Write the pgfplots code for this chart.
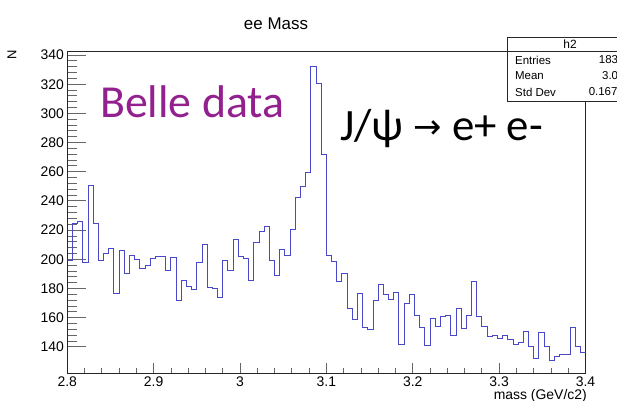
\documentclass[border=0pt]{standalone}
\usepackage{fontspec}
\setmainfont{Liberation Sans}
\newfontfamily\calibri{Carlito}
\newfontfamily\dejavu{DejaVu Sans}
\usepackage{pgfplots}
\pgfplotsset{compat=1.18}
\definecolor{histblue}{RGB}{72,72,200}
\definecolor{bellepurple}{RGB}{147,32,143}
\begin{document}
\begin{tikzpicture}
\useasboundingbox (0,0) rectangle (617bp,401bp);
\clip (0,0) rectangle (617bp,401bp);
\fill[white] (0,0) rectangle (617bp,401bp);
\begin{axis}[
  at={(67.3bp,28bp)}, anchor=south west, scale only axis,
  width=518.2bp, height=321.3bp,
  xmin=2.8, xmax=3.4, ymin=122, ymax=342.3,
  xtick={2.8,2.9,3.0,3.1,3.2,3.3,3.4},
  xticklabels={2.8,2.9,3,3.1,3.2,3.3,3.4},
  ytick={140,160,...,340},
  minor x tick num=4, minor y tick num=4,
  tick align=inside, xtick pos=left, ytick pos=left,
  axis line style={black!85, line width=0.8bp},
  every tick/.style={black!60, line width=0.8bp},
  major tick length=18.6bp, minor tick length=9.3bp,
  xtick style={/pgfplots/major tick length=10bp, /pgfplots/minor tick length=5bp},
  ticklabel style={font=\fontsize{14}{16}\selectfont},
  /pgf/number format/assume math mode=true,
]
\addplot[const plot mark left, histblue, line width=0.9bp, mark=none] coordinates {
(2.800,199.4) (2.806,224.5) (2.812,226) (2.818,197.5) (2.824,250.8)
(2.830,224.5) (2.836,199.4) (2.842,204) (2.848,207.4) (2.854,176.5)
(2.860,205.8) (2.866,190.3) (2.872,202.8) (2.878,199.8) (2.884,193.7)
(2.890,196) (2.896,200.5) (2.902,202) (2.908,202) (2.914,192.5)
(2.920,201.5) (2.926,172) (2.932,185.7) (2.938,181) (2.944,179)
(2.950,198) (2.956,210) (2.962,180.7) (2.968,180) (2.974,174)
(2.980,199.4) (2.986,192.5) (2.992,213.5) (2.998,201.6) (3.004,200.5)
(3.010,185.7) (3.016,211.2) (3.022,218.8) (3.028,222.2) (3.034,198.9)
(3.040,189.1) (3.046,206.9) (3.052,202.8) (3.058,220.6) (3.064,242.7)
(3.070,250) (3.076,259.2) (3.082,332.3) (3.088,320.4) (3.094,272)
(3.100,202.8) (3.106,198.7) (3.112,184.5) (3.118,190.3) (3.124,166.3)
(3.130,159) (3.136,176.6) (3.142,153.3) (3.148,151.9) (3.154,172)
(3.160,182.7) (3.166,176.2) (3.172,172.7) (3.178,177) (3.184,141.8)
(3.190,169.7) (3.196,175.9) (3.202,161.7) (3.208,153.3) (3.214,140.7)
(3.220,159.5) (3.226,154.2) (3.232,160.5) (3.238,161.7) (3.244,148)
(3.250,166.3) (3.256,152.6) (3.262,161.7) (3.268,184.5) (3.274,160.5)
(3.280,154.2) (3.286,146.8) (3.292,148) (3.298,145.7) (3.304,148)
(3.310,145) (3.316,141.8) (3.322,142.7) (3.328,150.7) (3.334,140)
(3.340,132) (3.346,149.8) (3.352,140) (3.358,130.9) (3.364,133.2)
(3.370,134.4) (3.376,135) (3.382,153.3) (3.388,140) (3.394,136)
(3.400,136)
};
\end{axis}
\node[inner sep=0, font=\fontsize{17}{20}\selectfont] at (276bp,377bp) {ee Mass};
\node[inner sep=0, rotate=90, font=\fontsize{13}{15}\selectfont] at (12bp,346bp) {N};
\node[inner sep=0, anchor=base east, font=\fontsize{14}{16}\selectfont] at (587bp,1.5bp) {mass (GeV/c2)};
\draw[black!85, line width=0.8bp, fill=white] (507bp,299.3bp) rectangle (650bp,363.3bp);
\draw[black!85, line width=0.8bp] (507bp,350bp) -- (650bp,350bp);
\node[inner sep=0, font=\fontsize{12}{14}\selectfont] at (570bp,356.6bp) {h2};
\node[inner sep=0, anchor=west, font=\fontsize{11.5}{13}\selectfont] at (515bp,341bp) {Entries};
\node[inner sep=0, anchor=west, font=\fontsize{11.5}{13}\selectfont] at (515bp,325bp) {Mean};
\node[inner sep=0, anchor=west, font=\fontsize{11.5}{13}\selectfont] at (515bp,309bp) {Std Dev};
\node[inner sep=0, anchor=east, font=\fontsize{11.5}{13}\selectfont] at (631bp,341bp) {18371};
\node[inner sep=0, anchor=east, font=\fontsize{11.5}{13}\selectfont] at (631bp,325bp) {3.074};
\node[inner sep=0, anchor=east, font=\fontsize{11.5}{13}\selectfont] at (624bp,309bp) {0.1675};
\node[inner sep=0, anchor=base west, text=bellepurple, font=\calibri\fontsize{46}{50}\selectfont] at (100bp,283.7bp) {Belle data};
\node[inner sep=0, anchor=base west, font=\calibri\fontsize{45}{50}\selectfont] at (340bp,260bp) {J/ψ {\dejavu\fontsize{34}{40}\selectfont\raisebox{2bp}{→}} e+ e-};
\end{tikzpicture}
\end{document}
